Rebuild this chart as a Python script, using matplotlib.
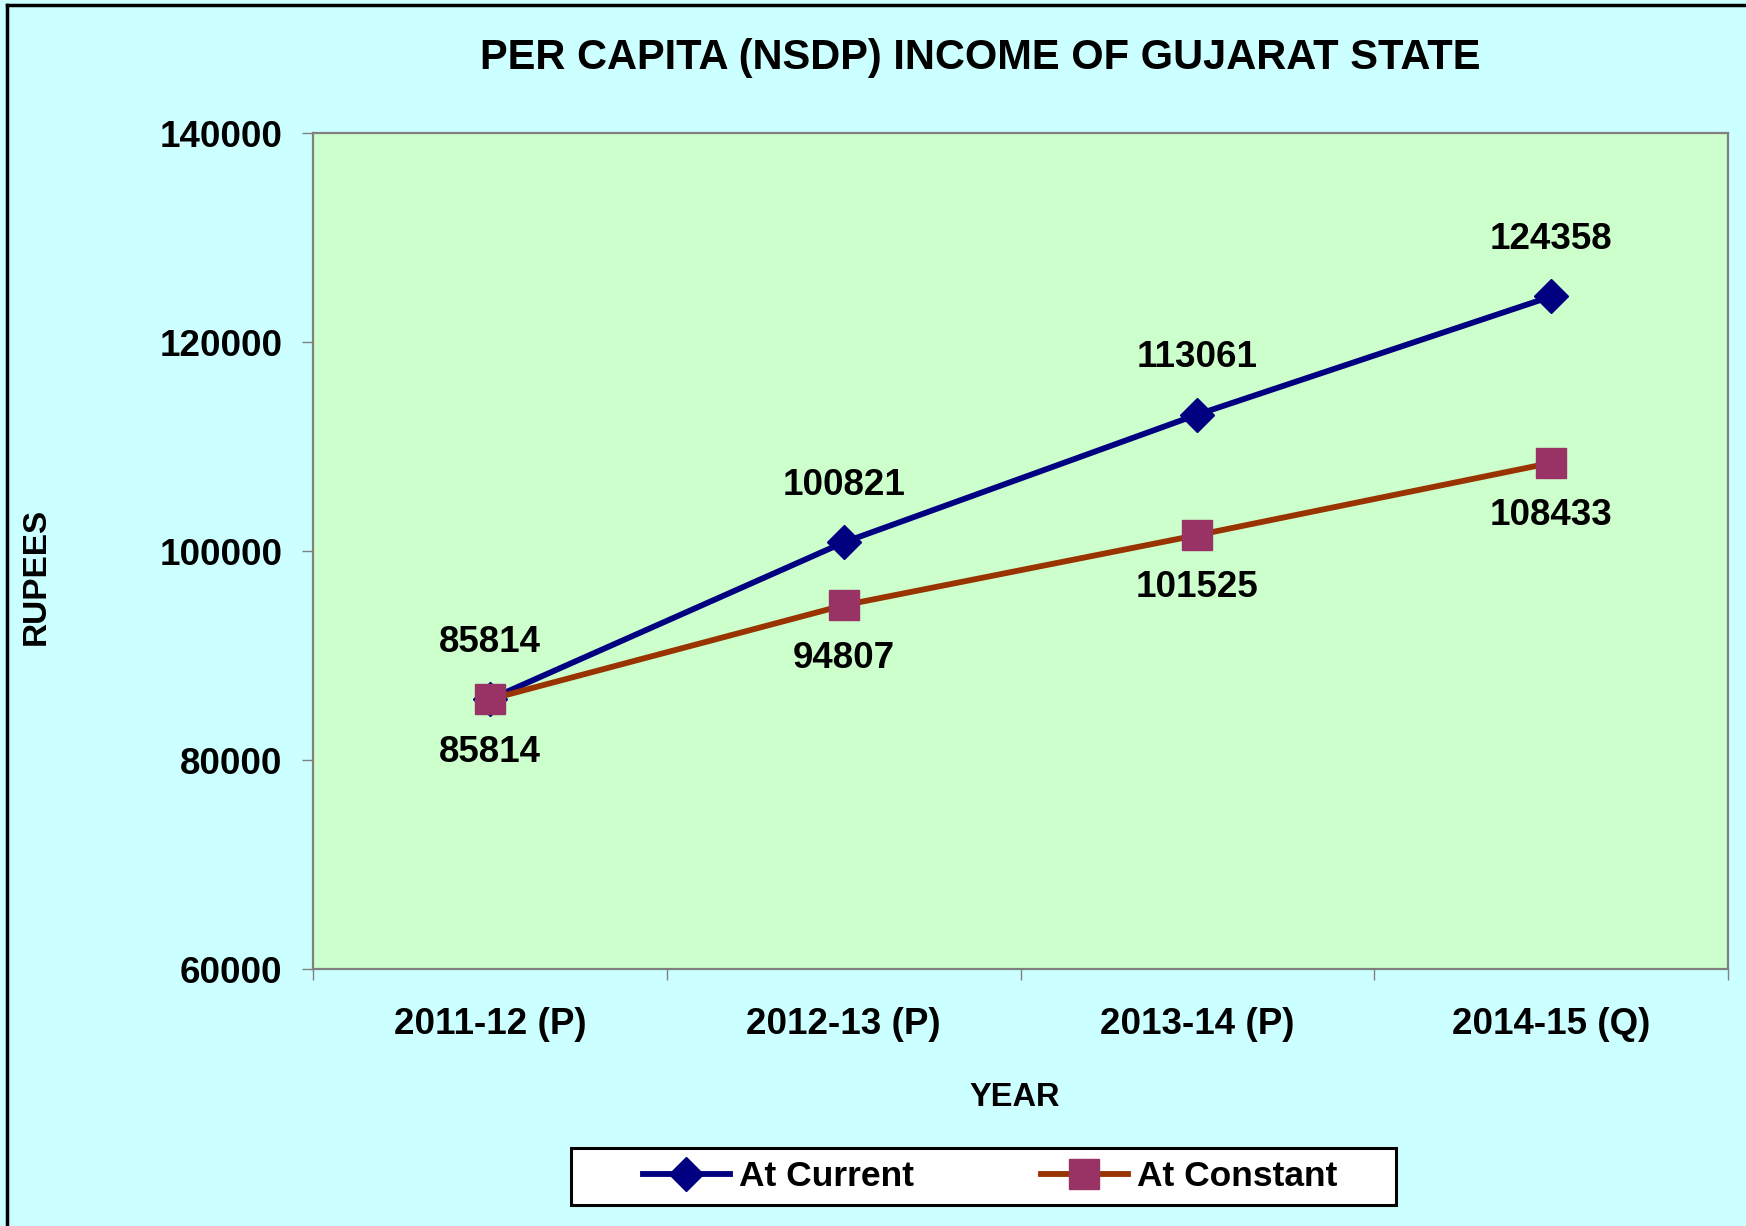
import matplotlib
matplotlib.use('Agg')  # noqa

import matplotlib.pyplot as plt  # noqa
from matplotlib.lines import Line2D  # noqa
from matplotlib.patches import Rectangle  # noqa

# chart data
years = ['2011-12 (P)', '2012-13 (P)', '2013-14 (P)', '2014-15 (Q)']
at_current = [85814, 100821, 113061, 124358]
at_constant = [85814, 94807, 101525, 108433]
y_ticks = [60000, 80000, 100000, 120000, 140000]

FIG_BG = '#CCFFFF'
PLOT_BG = '#CCFFCC'
NAVY = '#000080'
BROWN = '#993300'
PLUM = '#993366'

plt.rcParams['font.family'] = ['Liberation Sans', 'DejaVu Sans']
plt.rcParams['font.weight'] = 'bold'


def main():
    fig = plt.figure(figsize=(17.46, 12.26), dpi=100, facecolor=FIG_BG)
    ax = fig.add_axes([0.1793, 0.2096, 0.8104, 0.6819])
    ax.set_facecolor(PLOT_BG)

    x = list(range(len(years)))
    ax.plot(x, at_current, color=NAVY, lw=4.2, marker='D', ms=17,
            mfc=NAVY, mec=NAVY, label='At Current', zorder=3)
    ax.plot(x, at_constant, color=BROWN, lw=4.2, marker='s', ms=21,
            mfc=PLUM, mec=PLUM, label='At Constant', zorder=4)

    for xi, v in zip(x, at_current):
        ax.annotate(str(v), (xi, v), xytext=(0, 41), textcoords='offset points',
                    ha='center', va='center', fontsize=26.5, fontweight='bold')
    for xi, v in zip(x, at_constant):
        ax.annotate(str(v), (xi, v), xytext=(0, -38), textcoords='offset points',
                    ha='center', va='center', fontsize=26.5, fontweight='bold')

    ax.set_xlim(-0.5, len(years) - 0.5)
    ax.set_ylim(y_ticks[0], y_ticks[-1])
    ax.set_yticks(y_ticks)
    ax.set_yticklabels([str(t) for t in y_ticks])
    ax.set_xticks(x)
    ax.set_xticklabels(years)
    ax.set_xticks([i - 0.5 for i in range(len(years) + 1)], minor=True)

    ax.tick_params(axis='x', which='major', length=0, pad=27, labelsize=26.5)
    ax.tick_params(axis='x', which='minor', length=8, width=1, direction='out',
                   color='#808080')
    ax.tick_params(axis='y', length=8, width=1, direction='out', pad=14,
                   labelsize=26.5, color='#808080')
    for spine in ax.spines.values():
        spine.set_color('#808080')
        spine.set_linewidth(1.6)

    fig.text(0.5613, 0.9523, 'PER CAPITA (NSDP) INCOME OF GUJARAT STATE',
             ha='center', va='center', fontsize=30, fontweight='bold')
    fig.text(0.5813, 0.1052, 'YEAR', ha='center', va='center',
             fontsize=23.5, fontweight='bold')
    fig.text(0.0206, 0.530, 'RUPEES', ha='center', va='center',
             rotation=90, fontsize=24, fontweight='bold')

    # legend box
    fig.patches.append(Rectangle((571 / 1746, 1 - 1205 / 1226), 825 / 1746,
                                 57 / 1226, transform=fig.transFigure,
                                 facecolor='white', edgecolor='black', lw=2.2,
                                 zorder=1))
    leg = fig.legend(loc='center', bbox_to_anchor=(0.5670, 0.0404), ncol=2,
                     frameon=False, fontsize=25.5, handlelength=2.45,
                     handletextpad=0.25, columnspacing=3.6)
    leg.set_zorder(2)

    # outer frame (left and top edges)
    fig.add_artist(Line2D([0.0040, 0.0040], [0.0, 0.9963],
                          transform=fig.transFigure, color='black', lw=2.5))
    fig.add_artist(Line2D([0.0040, 1.0], [0.9963, 0.9963],
                          transform=fig.transFigure, color='black', lw=2.5))

    fig.savefig('out.png', dpi=100, facecolor=FIG_BG)


if __name__ == '__main__':
    main()
